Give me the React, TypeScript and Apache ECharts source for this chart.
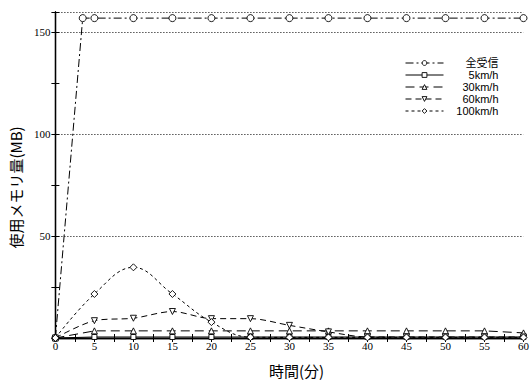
import React, { useEffect, useRef } from "react";
import * as echarts from "echarts";

const seriesNames = ["全受信", "5km/h", "30km/h", "60km/h", "100km/h"];
const timeAll = [0, 3.5, 5, 10, 15, 20, 25, 30, 35, 40, 45, 50, 55, 60];
const allRecv = [0, 157, 157, 157, 157, 157, 157, 157, 157, 157, 157, 157, 157, 157];
const times = [0, 5, 10, 15, 20, 25, 30, 35, 40, 45, 50, 55, 60];
const kmh5 = [0, 0.5, 0.5, 0.5, 0.5, 0.5, 0.5, 0.5, 0.5, 0.5, 0.5, 0.5, 0.5];
const kmh30 = [0, 3.5, 3.5, 3.5, 3.5, 3.5, 3.5, 3.5, 3.5, 3.5, 3.5, 3.5, 2.5];
const kmh60 = [0, 8.5, 9.7, 13, 9.5, 9.5, 6.2, 3, 0.5, 0.5, 0.5, 0.5, 0.5];
const kmh100 = [0, 21.6, 34.7, 21.6, 7.8, 0.4, 0.3, 0.3, 0.3, 0.3, 0.3, 0.3, 0.3];
const xTicks = [0, 60, 5];
const yTicks = [0, 160, 50];

const pair = (xs: number[], ys: number[]) => xs.map((x, i) => [x, ys[i]]);

const serif = "'Liberation Serif', 'DejaVu Serif', serif";
const sans = "'Liberation Sans', 'Noto Sans CJK JP', sans-serif";
const jp = "'Noto Sans CJK JP', sans-serif";

export default function App() {
  const ref = useRef<HTMLDivElement>(null);
  useEffect(() => {
    document.body.style.margin = "0";
    const chart = echarts.init(ref.current!, undefined, { renderer: "svg" });
    const base = {
      type: "line",
      color: "#000",
      symbolSize: 6,
      itemStyle: { color: "#fff", borderColor: "#000", borderWidth: 0.9 },
    };
    const axisCommon = {
      axisLine: { show: true, lineStyle: { color: "#000", width: 1.3 } },
      axisTick: { inside: true, length: 4, lineStyle: { color: "#000" } },
      minorTick: { show: true, splitNumber: 2, length: 4, lineStyle: { color: "#000" } },
    };
    chart.setOption({
      animation: false,
      backgroundColor: "#fff",
      grid: { left: 49, right: 5, top: 12, bottom: 28, show: false },
      legend: {
        orient: "vertical",
        left: 400,
        top: 52,
        itemWidth: 38,
        itemHeight: 6,
        itemGap: 0,
        data: seriesNames,
        lineStyle: { width: 1 },
        itemStyle: { borderWidth: 0.9 },
        formatter: (name: string) => `{a|${name}}`,
        textStyle: {
          fontFamily: sans,
          fontSize: 11,
          color: "#000",
          lineHeight: 12,
          rich: {
            a: { fontFamily: sans, fontSize: 11, color: "#000", width: 50, align: "right", lineHeight: 12 },
          },
        },
      },
      xAxis: [
        {
          type: "value",
          min: xTicks[0],
          max: xTicks[1],
          interval: xTicks[2],
          name: "時間(分)",
          nameLocation: "middle",
          nameGap: 25,
          nameTextStyle: { fontFamily: jp, fontSize: 15, color: "#000", padding: [0, 0, 0, 14] },
          ...axisCommon,
          axisLabel: {
            fontFamily: serif,
            fontSize: 11,
            color: "#000",
            margin: 3,
            showMinLabel: true,
            formatter: (v: number) => String(v),
          },
          splitLine: { show: false },
        },
        {
          type: "value",
          position: "top",
          min: xTicks[0],
          max: xTicks[1],
          interval: xTicks[2],
          ...axisCommon,
          axisLabel: { show: false },
          splitLine: { show: false },
        },
      ],
      yAxis: [
        {
          type: "value",
          min: yTicks[0],
          max: yTicks[1],
          interval: yTicks[2],
          name: "使用メモリ量(MB)",
          nameLocation: "middle",
          nameGap: 31,
          nameTextStyle: { fontFamily: jp, fontSize: 15, color: "#000", padding: [0, 25, 0, 0] },
          ...axisCommon,
          axisLabel: {
            fontFamily: serif,
            fontSize: 11,
            color: "#000",
            margin: 5,
            formatter: (v: number) => (v !== 0 && v % 50 === 0 ? String(v) : ""),
          },
          splitLine: { show: true, lineStyle: { color: "#000", type: [1, 2], width: 1 } },
        },
        {
          type: "value",
          position: "right",
          min: yTicks[0],
          max: yTicks[1],
          interval: yTicks[2],
          ...axisCommon,
          axisLabel: { show: false },
          splitLine: { show: false },
        },
      ],
      series: [
        {
          ...base,
          name: seriesNames[0],
          symbol: "circle",
          symbolSize: 7,
          lineStyle: { color: "#000", width: 1, type: [8, 3, 2, 3] },
          data: pair(timeAll, allRecv),
        },
        {
          ...base,
          name: seriesNames[1],
          symbol: "rect",
          symbolSize: 5,
          lineStyle: { color: "#000", width: 1.2, type: "solid" },
          data: pair(times, kmh5),
        },
        {
          ...base,
          name: seriesNames[2],
          symbol: "triangle",
          lineStyle: { color: "#000", width: 1, type: [9, 5] },
          data: pair(times, kmh30),
        },
        {
          ...base,
          name: seriesNames[3],
          symbol: "triangle",
          symbolRotate: 180,
          smooth: 0.3,
          lineStyle: { color: "#000", width: 1, type: [6, 4] },
          data: pair(times, kmh60),
        },
        {
          ...base,
          name: seriesNames[4],
          symbol: "diamond",
          symbolSize: 7,
          smooth: 0.4,
          lineStyle: { color: "#000", width: 1, type: [3, 3] },
          data: pair(times, kmh100),
        },
      ],
    });
    return () => chart.dispose();
  }, []);
  return <div ref={ref} style={{ width: 532, height: 383 }} />;
}
